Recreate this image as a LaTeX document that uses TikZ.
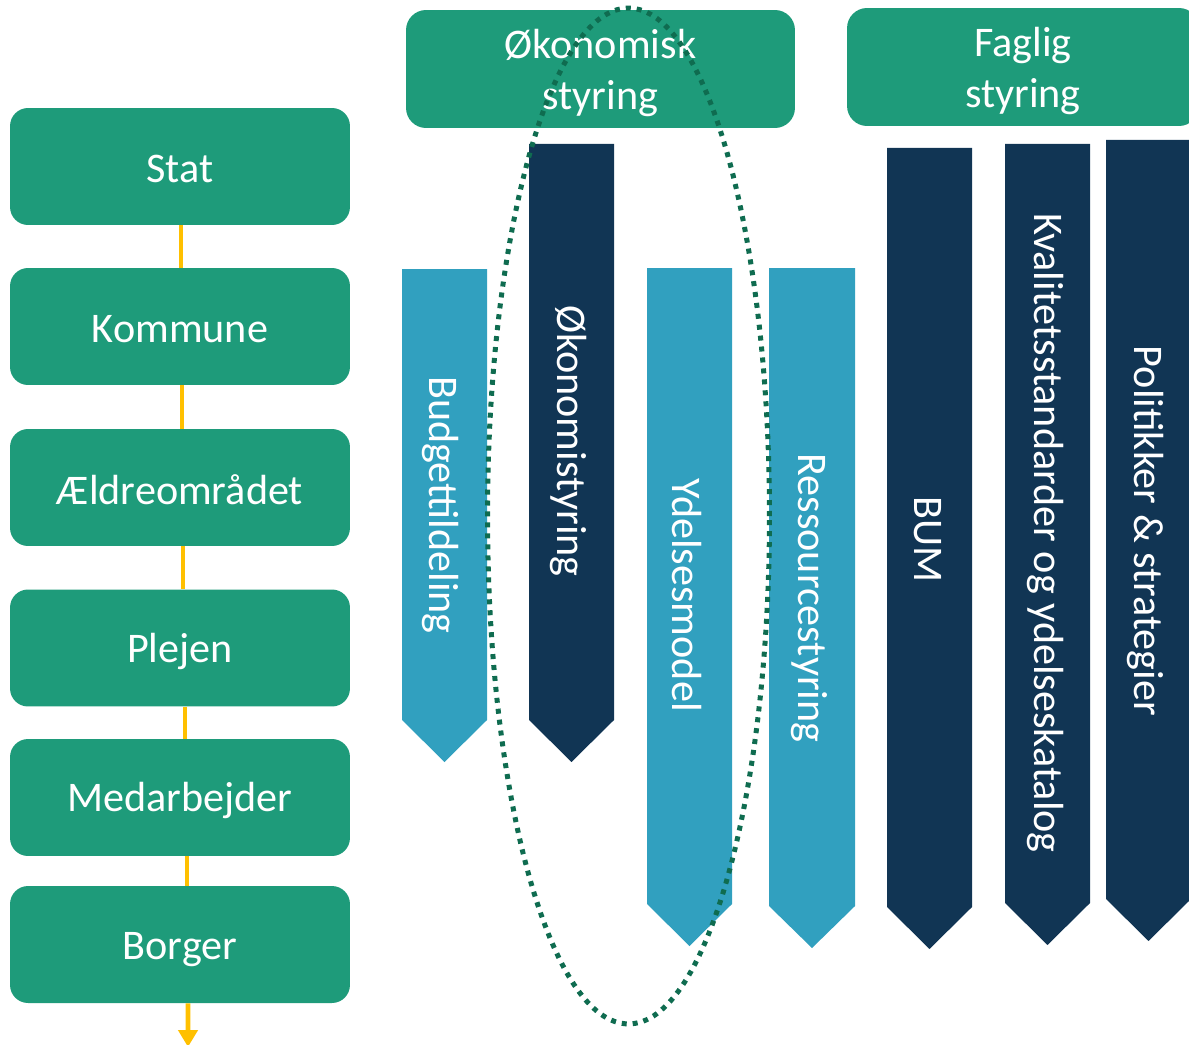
\documentclass[tikz,border=0pt]{standalone}
\usepackage{fontspec}
\setmainfont{Carlito}
\usetikzlibrary{arrows.meta,calc}
\definecolor{boxgreen}{RGB}{30,155,122}
\definecolor{lightblue}{RGB}{49,160,191}
\definecolor{navy}{RGB}{17,53,84}
\definecolor{yel}{RGB}{255,192,0}
\definecolor{ringgreen}{RGB}{15,108,80}
\newcommand{\dn}[2]{\raisebox{-#1}[\height][\depth]{#2}}
\newcommand{\twol}[2]{\raisebox{-0.1cm}[\height][\depth]{\begin{tabular}{@{}c@{}}#1\\#2\end{tabular}}}
\begin{document}
\begin{tikzpicture}[x=0.02cm,y=-0.02cm,
  lbox/.style={fill=boxgreen, draw=none, rounded corners=0.36cm, minimum width=6.8cm, minimum height=2.34cm, inner sep=0pt, text=white, font=\fontsize{24}{29}\selectfont},
  tbox/.style={fill=boxgreen, draw=none, rounded corners=0.4cm, minimum height=2.36cm, inner sep=0pt, text=white, font=\fontsize{24}{29}\selectfont},
  yl/.style={draw=yel, line width=2.8pt},
  lbarrow/.style={fill=lightblue, draw=none},
  nvarrow/.style={fill=navy, draw=none},
  vtext/.style={rotate=-90, text=white, inner sep=0pt, font=\fontsize{24}{29}\selectfont},
  ring/.style={draw=ringgreen, line width=2.85pt, dash pattern=on 2.85pt off 3.4pt}
]
\useasboundingbox (0,0) rectangle (1189,1044);
\clip (0,0) rectangle (1189,1044);

% left column
\node[lbox] (stat) at (180,166.5) {\dn{0.05cm}{Stat}};
\node[lbox] (kommune) at (180,326.5) {\dn{0.06cm}{Kommune}};
\node[lbox] (aeldre) at (180,487.5) {\dn{0.04cm}{Ældreområdet}};
\node[lbox] (plejen) at (180,648) {\dn{0.06cm}{Plejen}};
\node[lbox] (medarb) at (180,797.5) {\dn{0.06cm}{Medarbejder}};
\node[lbox] (borger) at (180,944.5) {\dn{0.1cm}{Borger}};

\draw[yl] ([xshift=0.02cm]stat.south) -- ([xshift=0.02cm]kommune.north);
\draw[yl] ([xshift=0.04cm]kommune.south) -- ([xshift=0.04cm]aeldre.north);
\draw[yl] ([xshift=0.06cm]aeldre.south) -- ([xshift=0.06cm]plejen.north);
\draw[yl] ([xshift=0.1cm]plejen.south) -- ([xshift=0.1cm]medarb.north);
\draw[yl] ([xshift=0.14cm]medarb.south) -- ([xshift=0.14cm]borger.north);
\coordinate (bend) at (188,1047);
\draw[yl,-{Triangle[width=0.38cm,length=0.34cm]}] ([xshift=0.16cm]borger.south) -- (bend);

% top boxes
\node[tbox, minimum width=7.78cm] (okon) at (600.5,69) {\twol{Økonomisk}{styring}};
\node[tbox, minimum width=7.04cm] (faglig) at (1023,67) {\twol{Faglig}{styring}};

% arrows
\fill[lbarrow] (402,269) -- (487,269) -- (487,720) -- (444.5,762) -- (402,720) -- cycle;
\node[vtext] (budget) at (441,505) {Budgettildeling};

\fill[nvarrow] (529,144) -- (614,144) -- (614,720) -- (571.5,762) -- (529,720) -- cycle;
\node[vtext] (okstyr) at (569,441) {Økonomistyring};

\fill[lbarrow] (647,268) -- (732,268) -- (732,904) -- (689.5,946) -- (647,904) -- cycle;
\node[vtext] (ydelse) at (687,595) {Ydelsesmodel};

\fill[lbarrow] (769,268) -- (855,268) -- (855,906) -- (812,948) -- (769,906) -- cycle;
\node[vtext] (ressource) at (809,598) {Ressourcestyring};

\fill[nvarrow] (887,148) -- (972,148) -- (972,907) -- (929.5,949) -- (887,907) -- cycle;
\node[vtext] (bum) at (928,540) {BUM};

\fill[nvarrow] (1005,144) -- (1090,144) -- (1090,903) -- (1047.5,945) -- (1005,903) -- cycle;
\node[vtext] (kval) at (1045,533) {Kvalitetsstandarder og ydelseskatalog};

\fill[nvarrow] (1106,140) -- (1191,140) -- (1191,899) -- (1148.5,941) -- (1106,899) -- cycle;
\node[vtext] (polit) at (1145,531) {Politikker \& strategier};

% dotted ellipse
\draw[ring] (628.5,516) ellipse [x radius=2.82cm, y radius=10.16cm];
\end{tikzpicture}
\end{document}
